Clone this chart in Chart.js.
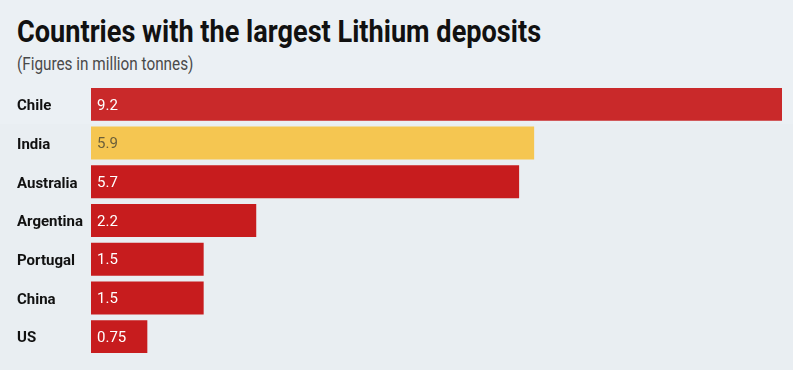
<!DOCTYPE html>
<html lang="en">
<head>
  <meta charset="UTF-8" />
  <title>Countries with the largest Lithium deposits</title>
  <script src="https://cdn.jsdelivr.net/npm/chart.js"></script>
  <style>
    html, body { margin: 0; padding: 0; background: #e9eef2; }
    body { width: 793px; height: 370px; position: relative; overflow: hidden; }
    .band { position: absolute; left: 0; top: 0; width: 793px; height: 124px; background: #ebf0f4; }
    h1, .sub { position: absolute; left: 17px; margin: 0; white-space: nowrap; transform-origin: 0 0; font-family: Roboto, sans-serif; }
    h1 { top: 12px; font-weight: bold; font-size: 32px; color: #111; }
    .sub { top: 53px; font-size: 18px; font-weight: 400; color: #4a4a4a; }
    #chart { position: absolute; left: 0; top: 0; }
  </style>
</head>
<body>
<div class="band"></div>
<h1 id="title">Countries with the largest Lithium deposits</h1>
<p class="sub" id="sub">(Figures in million tonnes)</p>
<canvas id="chart" width="793" height="370"></canvas>
<script>
const countries = ["Chile", "India", "Australia", "Argentina", "Portugal", "China", "US"];
const deposits = [9.2, 5.9, 5.7, 2.2, 1.5, 1.5, 0.75];
const valueLabels = ["9.2", "5.9", "5.7", "2.2", "1.5", "1.5", "0.75"];
const barColors = ["#c9292a", "#f5c651", "#c71c1e", "#c71c1e", "#c71c1e", "#c71c1e", "#c71c1e"];
const labelColors = ["#fff", "#6b5f3a", "#fff", "#fff", "#fff", "#fff", "#fff"];

const font = "Roboto, sans-serif";

// the headline face is condensed, squeeze the text to the same width
function squeeze(id, w) {
  const el = document.getElementById(id);
  el.style.transform = "scaleX(" + (w / el.offsetWidth) + ")";
}
squeeze("title", 524);
squeeze("sub", 176);

// value text drawn just inside the start of each bar
const insideLabels = {
  id: "insideLabels",
  afterDatasetsDraw(chart) {
    const ctx = chart.ctx;
    const meta = chart.getDatasetMeta(0);
    ctx.save();
    ctx.font = "15px " + font;
    ctx.textBaseline = "middle";
    ctx.textAlign = "left";
    meta.data.forEach((bar, i) => {
      ctx.fillStyle = labelColors[i];
      ctx.fillText(valueLabels[i], bar.base + 6, bar.y + 1.5);
    });
    ctx.restore();
  }
};

new Chart(document.getElementById("chart"), {
  type: "bar",
  data: {
    labels: countries,
    datasets: [{
      data: deposits,
      backgroundColor: barColors,
      barPercentage: 1,
      categoryPercentage: 0.85
    }]
  },
  options: {
    indexAxis: "y",
    responsive: false,
    animation: false,
    layout: { padding: { left: 17, right: 11, top: 85, bottom: 14 } },
    plugins: { legend: { display: false }, tooltip: { enabled: false } },
    scales: {
      x: { display: false, min: 0, max: 9.2 },
      y: {
        grid: { display: false },
        border: { display: false },
        afterFit(scale) { scale.width = 74; },
        ticks: {
          crossAlign: "far",
          labelOffset: 2,
          color: "#111",
          font: { family: font, size: 15, weight: "bold" }
        }
      }
    }
  },
  plugins: [insideLabels]
});
</script>
</body>
</html>
